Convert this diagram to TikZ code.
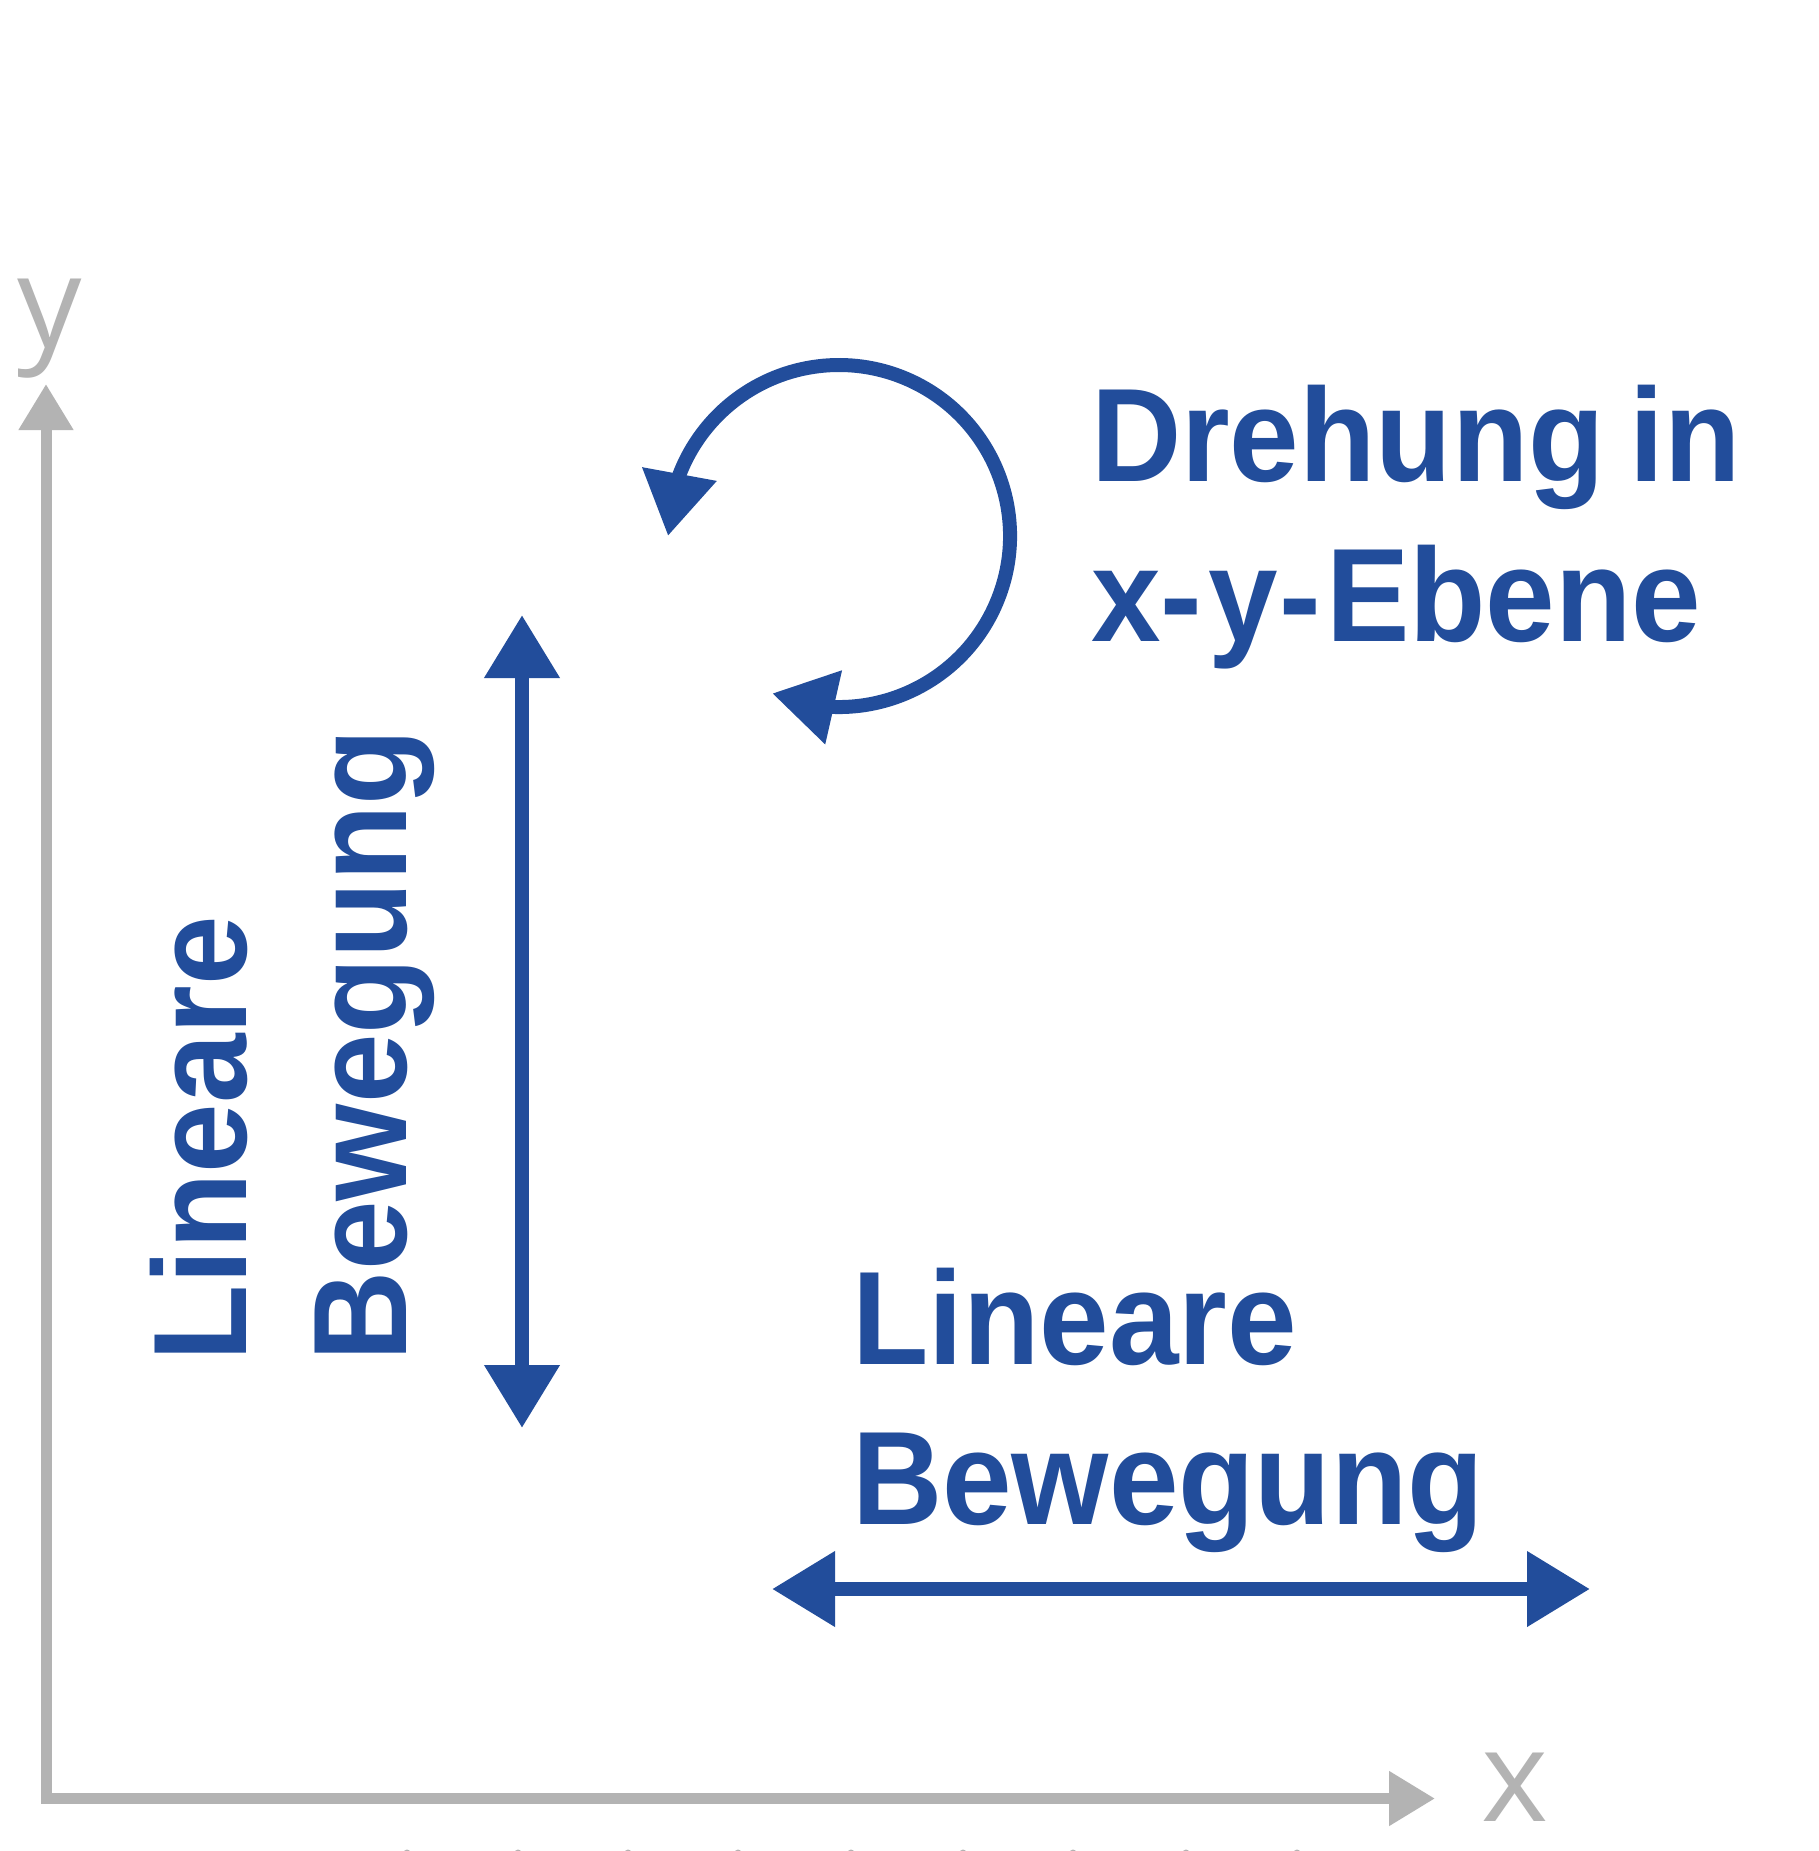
\documentclass[tikz,border=0pt]{standalone}
\usepackage{fontspec}
\setmainfont{Liberation Sans}
\newfontfamily\blfont[FakeStretch=0.94]{Liberation Sans}
\newfontfamily\grfont{Open Sans}
\usetikzlibrary{arrows.meta,bending}
\definecolor{blu}{RGB}{34,77,155}
\definecolor{gry}{RGB}{179,179,179}
\begin{document}
\begin{tikzpicture}[x=1pt,y=1pt,
  lbl/.style={inner sep=0pt, outer sep=0pt, text=blu, font=\blfont\bfseries\fontsize{133}{160}\selectfont, anchor=base west},
  axlbl/.style={inner sep=0pt, outer sep=0pt, text=gry, font=\grfont\fontsize{128}{150}\selectfont, anchor=base},
  axisline/.style={draw=gry, line width=11pt, line join=miter, {Triangle[length=46pt,width=52pt]}-{Triangle[length=46pt,width=52pt]}},
  motion/.style={draw=blu, line width=14pt, {Triangle[length=63pt,width=72pt]}-{Triangle[length=63pt,width=72pt]}},
  turn/.style={draw=blu, line width=14pt, {Triangle[length=63pt,width=72pt,flex]}-{Triangle[length=63pt,width=72pt,flex]}},
  tick/.style={fill=gry}
]
\useasboundingbox (0,0) rectangle (1818,-1851);
\fill[white] (0,0) rectangle (1818,-1851);
% axes
\coordinate (ytip) at (46,-384);
\coordinate (orig) at (46,-1798.5);
\coordinate (xtip) at (1435,-1798.5);
\draw[axisline] (ytip) -- (orig) -- (xtip);
\node[axlbl] (ylab) at (50,-347) {y};
\node[axlbl] (xlab) at (1515,-1821) {x};
\foreach \tx in {407,518,628,738,851,963,1073,1186,1297}
  \fill[tick] (\tx,-1853) circle (3.5pt);
% vertical motion
\coordinate (vtop) at (522,-615);
\coordinate (vbot) at (522,-1428);
\draw[motion] (vtop) -- (vbot);
% horizontal motion
\coordinate (hleft) at (772,-1589);
\coordinate (hright) at (1590,-1589);
\draw[motion] (hleft) -- (hright);
% rotation
\coordinate (rotstart) at (772.2,-693.4);
\draw[turn] (rotstart) arc[start angle=-113, end angle=180, radius=171pt];
% labels
\node[lbl] (dreh1) at (1091,-481) {Drehung\hspace{25pt}in};
\node[lbl] (dreh2) at (1091,-641) {x-\kern6pt y\kern2pt-\kern5pt Ebene};
\node[lbl] (hlin1) at (852,-1364) {Lineare};
\node[lbl] (hlin2) at (852,-1524) {Bewegung};
\node[lbl, rotate=90] (vlin1) at (246,-1361) {Lineare};
\node[lbl, rotate=90] (vlin2) at (406,-1361) {Bewegung};
\end{tikzpicture}
\end{document}
